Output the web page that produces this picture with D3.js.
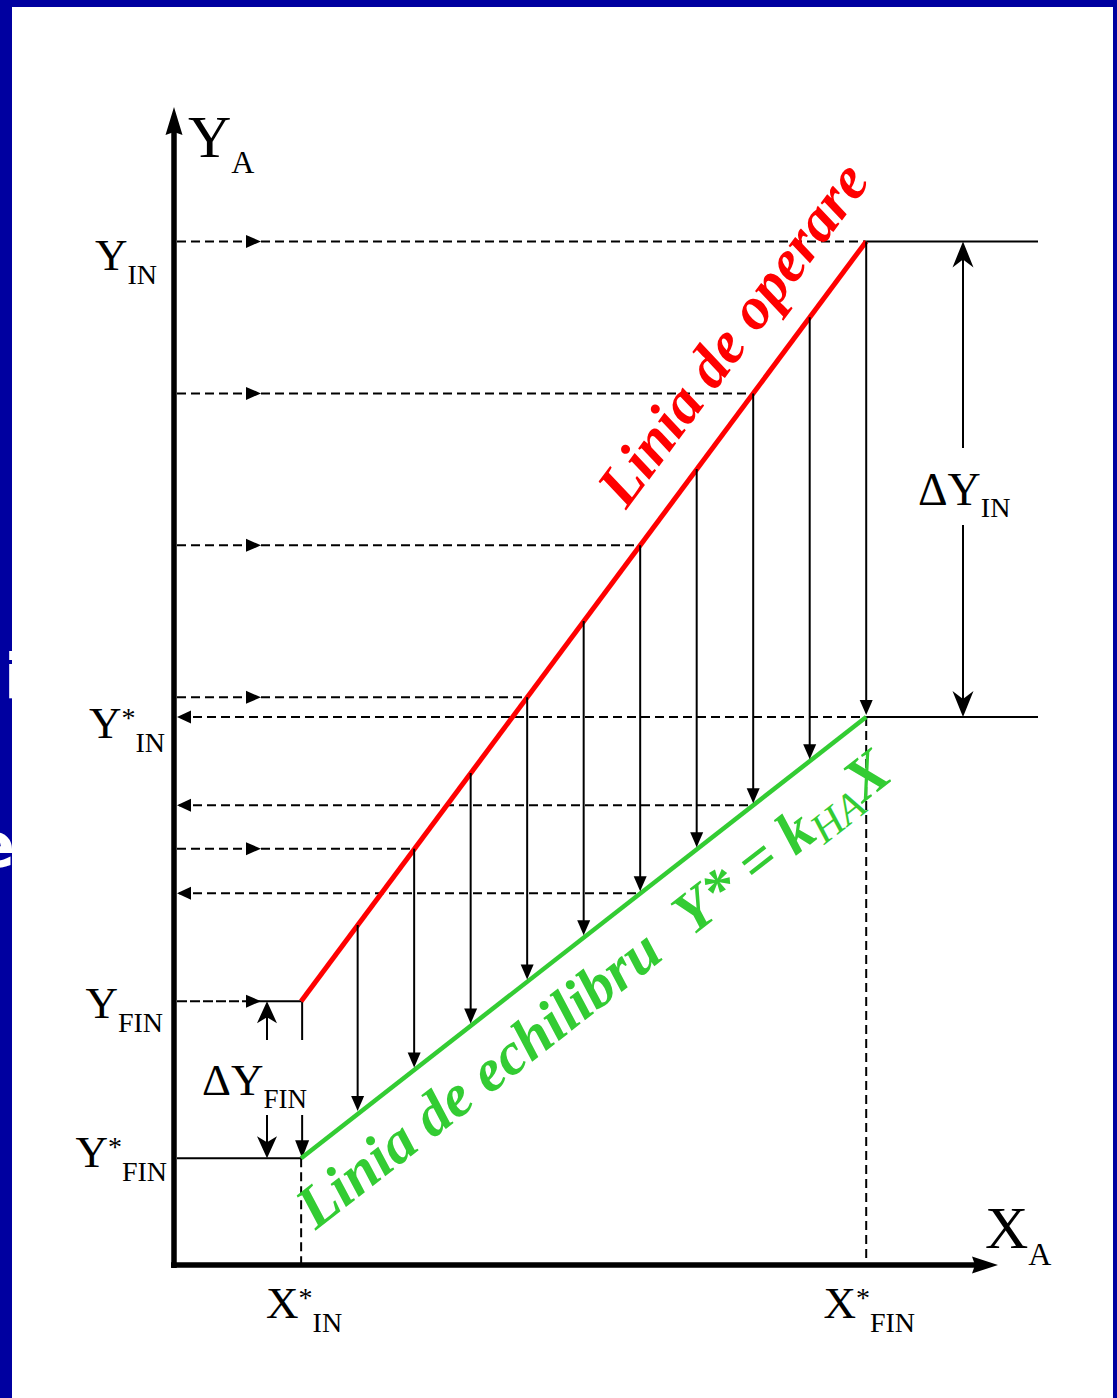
<!DOCTYPE html>
<html>
<head>
<meta charset="utf-8">
<script src="https://cdn.jsdelivr.net/npm/d3@7"></script>
<style>
  html, body { margin: 0; padding: 0; background: #0000a0; overflow: hidden; }
  svg { display: block; }
</style>
</head>
<body>
<script>
// ---- Data (arbitrary concentration units) ----
const xDomain = [0, 14.6];
const yDomain = [0, 20.5];

// operating line (Y_FIN -> Y_IN) and equilibrium line Y* = k_HA X
const operatingX = [2.25, 12.25];
const operatingY = [4.67, 18.12];
const equilibriumX = [2.25, 12.25];
const equilibriumY = [1.89, 9.70];

// vertical stage arrows: from operating line down to equilibrium line
const stageX      = [3.25, 4.25, 5.25, 6.25, 7.25, 8.25, 9.25, 10.25, 11.25, 12.25];
const stageTop    = [6.02, 7.37, 8.71, 10.05, 11.40, 12.74, 14.09, 15.43, 16.78, 18.12];
const stageBottom = [2.69, 3.46, 4.24, 5.02, 5.80, 6.58, 7.36, 8.14, 8.92, 9.70];

// dashed projections from the Y axis onto the operating line
const feedY = [18.12, 15.43, 12.74, 10.05, 7.37];
const feedX = [12.25, 10.25, 8.25, 6.25, 4.25];

// dashed projections from the equilibrium line back to the Y axis
const returnY = [9.70, 8.14, 6.58];
const returnX = [12.25, 10.25, 8.25];

// characteristic levels
const yIn = 18.12, yInEq = 9.70, yFin = 4.67, yFinEq = 1.89;
const xInEq = 2.25, xFinEq = 12.25;

// tick labels: [main, superscript, subscript]
const yTickValues = [yIn, yInEq, yFin, yFinEq];
const yTickLabels = [["Y", "", "IN"], ["Y", "*", "IN"], ["Y", "", "FIN"], ["Y", "*", "FIN"]];
const xTickValues = [xInEq, xFinEq];
const xTickLabels = [["X", "*", "IN"], ["X", "*", "FIN"]];

// ---- Layout ----
const W = 1117, H = 1398;
const SERIF = "'Liberation Serif', 'Times New Roman', Times, serif";
const RED = "#ff0000", GREEN = "#33cc33";
const yLabelLayout = { dx: [-17, -9, -11, -7], dy: [29, 21, 17, 9] };

const svg = d3.select("body").append("svg").attr("width", W).attr("height", H);

// slide background and stray white letters at the far left edge
svg.append("rect").attr("width", W).attr("height", H).attr("fill", "#0000a0");
svg.append("text").attr("x", 4).attr("y", 698).attr("font-family", "'DejaVu Sans', sans-serif")
  .attr("font-weight", "bold").attr("font-size", 62).attr("fill", "#fff").text("i");
svg.append("text").attr("x", 15).attr("y", 867).attr("text-anchor", "end").attr("font-family", "'DejaVu Sans', sans-serif")
  .attr("font-weight", "bold").attr("font-size", 62).attr("fill", "#fff").text("e");
svg.append("rect").attr("x", 12).attr("y", 7).attr("width", 1101).attr("height", H).attr("fill", "#fff");

const x = d3.scaleLinear().domain(xDomain).range([174, 999]);
const y = d3.scaleLinear().domain(yDomain).range([1265, 107]);

const g = svg.append("g");
const AX = x(0), AY = y(0);

function line(x1, y1, x2, y2, opts = {}) {
  return g.append("line").attr("x1", x1).attr("y1", y1).attr("x2", x2).attr("y2", y2)
    .attr("stroke", opts.color || "#000").attr("stroke-width", opts.w || 2)
    .attr("stroke-dasharray", opts.dash || null);
}
// filled triangle arrowhead; dir = unit vector of travel
function tri(tx, ty, dx, dy, len, half) {
  const bx = tx - dx * len, by = ty - dy * len;
  const nx = -dy, ny = dx;
  g.append("path").attr("d", `M${tx},${ty}L${bx + nx * half},${by + ny * half}L${bx - nx * half},${by - ny * half}Z`).attr("fill", "#000");
}
// barbed (notched) arrowhead
function barb(tx, ty, dx, dy, len, half, notch) {
  const bx = tx - dx * len, by = ty - dy * len;
  const cx = tx - dx * (len - notch), cy = ty - dy * (len - notch);
  const nx = -dy, ny = dx;
  g.append("path").attr("d", `M${tx},${ty}L${bx + nx * half},${by + ny * half}L${cx},${cy}L${bx - nx * half},${by - ny * half}Z`).attr("fill", "#000");
}

const DASH = "9,5";
const axisEdge = AX + 3;

// projections onto the operating line
feedY.forEach((v, i) => {
  line(axisEdge, y(v), x(feedX[i]), y(v), { dash: DASH });
  tri(axisEdge + 84, y(v), 1, 0, 15, 6.5);
});
// projections back to the axis
returnY.forEach((v, i) => {
  line(axisEdge + 2, y(v), x(returnX[i]), y(v), { dash: DASH });
  tri(axisEdge, y(v), -1, 0, 14, 6.5);
});

// Y_FIN and Y*_FIN levels
line(axisEdge, y(yFin), axisEdge + 84, y(yFin), { dash: "10,3" });
line(axisEdge + 84, y(yFin), x(xInEq), y(yFin));
tri(axisEdge + 84, y(yFin), 1, 0, 15, 6.5);
line(axisEdge, y(yFinEq), x(xInEq), y(yFinEq));

// dashed drops to the X axis
line(x(xInEq), y(yFinEq), x(xInEq), AY, { dash: DASH });
line(x(xFinEq), y(yInEq), x(xFinEq), AY, { dash: DASH });

// ΔY_IN dimension
const rightEnd = 1038, dimX = 963;
line(x(xFinEq), y(yIn), rightEnd, y(yIn));
line(x(xFinEq), y(yInEq), rightEnd, y(yInEq));
line(dimX, y(yIn) + 10, dimX, 448);
barb(dimX, y(yIn), 0, -1, 26, 10.5, 8);
line(dimX, 525, dimX, y(yInEq) - 10);
barb(dimX, y(yInEq), 0, 1, 26, 10.5, 8);

// ΔY_FIN dimension
const dfX = 267, tickX = x(xInEq) + 1;
line(tickX, y(yFin), tickX, 1040);
line(dfX, 1040, dfX, y(yFin) + 8);
barb(dfX, y(yFin), 0, -1, 22, 10, 6);
line(dfX, 1115, dfX, y(yFinEq) - 8);
barb(dfX, y(yFinEq), 0, 1, 22, 10, 6);
line(tickX, 1115, tickX, y(yFinEq) - 8);
tri(tickX, y(yFinEq), 0, 1, 18, 7);

// operating and equilibrium lines
line(x(operatingX[0]), y(operatingY[0]), x(operatingX[1]), y(operatingY[1]), { color: RED, w: 5 });
line(x(equilibriumX[0]), y(equilibriumY[0]), x(equilibriumX[1]), y(equilibriumY[1]), { color: GREEN, w: 4.5 });

// stage arrows
stageX.forEach((v, i) => {
  const tipY = y(stageBottom[i]) - 2;
  line(x(v), y(stageTop[i]), x(v), tipY - 8);
  tri(x(v), tipY, 0, 1, 15, 6.5);
});

// axes
line(AX, AY + 3, AX, y(yDomain[1]) + 24, { w: 5.5 });
barb(AX, y(yDomain[1]), 0, -1, 28, 8.5, 3);
line(AX - 3, AY, x(xDomain[1]) - 24, AY, { w: 5.5 });
barb(x(xDomain[1]) - 1, AY, 1, 0, 26, 8.5, 3);

// rich label helper: parts = [[text, size, dy, style]]
function rich(px, py, anchor, parts, attrs = {}) {
  const t = g.append("text").attr("x", px).attr("y", py).attr("text-anchor", anchor)
    .attr("font-family", SERIF).attr("fill", attrs.fill || "#000");
  parts.forEach(p => {
    const s = t.append("tspan").text(p[0]).attr("font-size", p[1]).attr("dy", p[2] || 0);
    if (p[3]) Object.entries(p[3]).forEach(([k, v]) => s.attr(k, v));
  });
  return t;
}
function tickParts(lbl) {
  const parts = [[lbl[0], 45, 0]];
  if (lbl[1]) { parts.push([lbl[1], 28, -11]); parts.push([lbl[2], 28, 25]); }
  else parts.push([lbl[2], 28, 14]);
  return parts;
}

yTickValues.forEach((v, i) => {
  rich(AX + yLabelLayout.dx[i], y(v) + yLabelLayout.dy[i], "end", tickParts(yTickLabels[i]));
});
xTickValues.forEach((v, i) => {
  rich(x(v) + 3, 1318, "middle", tickParts(xTickLabels[i]));
});

// axis titles
rich(188, 157, "start", [["Y", 60, 0], ["A", 32, 16]]);
rich(985, 1248, "start", [["X", 60, 0], ["A", 32, 17]]);

// dimension labels
rich(918, 505, "start", [["\u0394Y", 46, 0], ["IN", 28, 12]]);
rich(202, 1095, "start", [["\u0394Y", 45, 0], ["FIN", 27, 13]]);

// line captions placed along each line
function along(x0, y0, x1, y1, s, off) {
  const len = Math.hypot(x1 - x0, y1 - y0);
  const dx = (x1 - x0) / len, dy = (y1 - y0) / len;
  const nx = -dy, ny = dx;
  return { px: x0 + dx * s + nx * off, py: y0 + dy * s + ny * off, ang: Math.atan2(dy, dx) * 180 / Math.PI };
}

const op = along(x(operatingX[0]), y(operatingY[0]), x(operatingX[1]), y(operatingY[1]), 588, -32);
g.append("text")
  .attr("transform", `translate(${op.px},${op.py}) rotate(${op.ang})`)
  .attr("font-family", SERIF).attr("font-weight", "bold").attr("font-style", "italic")
  .attr("font-size", 60).attr("fill", RED)
  .text("Linia de operare");

const eq = along(x(equilibriumX[0]), y(equilibriumY[0]), x(equilibriumX[1]), y(equilibriumY[1]), -33, 66);
const et = g.append("text")
  .attr("transform", `translate(${eq.px},${eq.py}) rotate(${eq.ang})`)
  .attr("font-family", SERIF).attr("font-weight", "bold").attr("font-style", "italic")
  .attr("font-size", 60).attr("fill", GREEN);
et.append("tspan").text("Linia de echilibru");
et.append("tspan").attr("dx", 34).text("Y* = k");
et.append("tspan").attr("font-size", 42).attr("font-weight", "normal").attr("dy", 9).text("HA");
et.append("tspan").attr("dy", -9).text("X");
</script>
</body>
</html>
